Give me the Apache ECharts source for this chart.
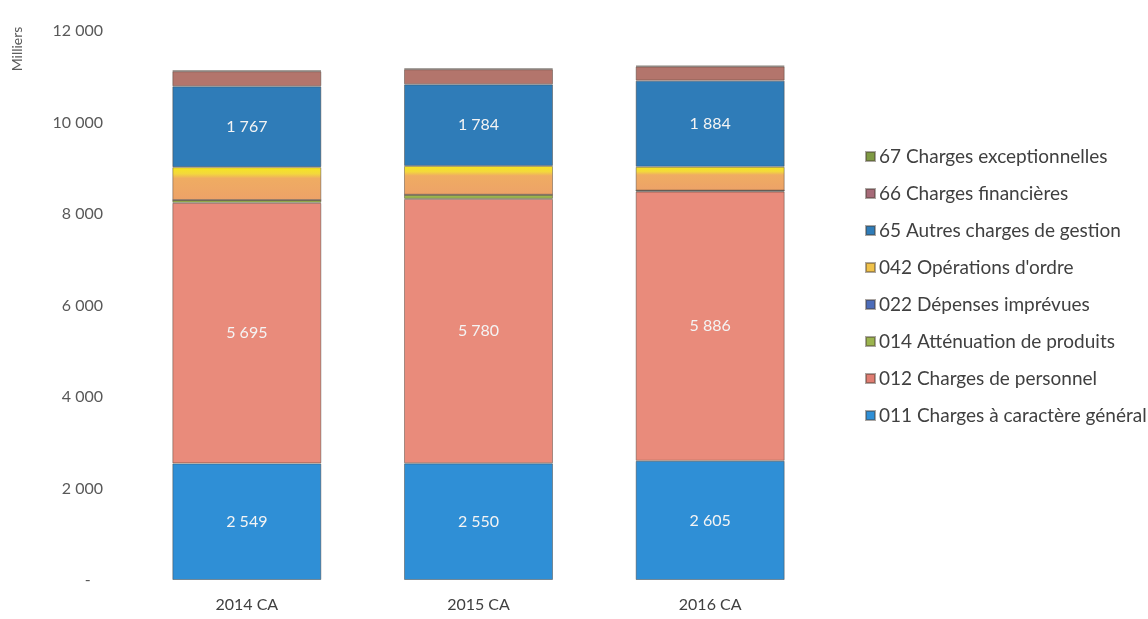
<!DOCTYPE html>
<html>
<head>
<meta charset="utf-8">
<title>Charges de fonctionnement</title>
<script src="https://cdn.jsdelivr.net/npm/echarts@6/dist/echarts.min.js"></script>
<style>
  html, body { margin: 0; padding: 0; background: #ffffff; }
  #chart { width: 1148px; height: 619px; }
</style>
</head>
<body>
<div id="chart"></div>
<script>
// Exercices (comptes administratifs)
const categories = ['2014 CA', '2015 CA', '2016 CA'];

// Montants par chapitre, en milliers d'euros
const ch011 = [2549, 2550, 2605];
const ch012 = [5695, 5780, 5886];
const ch014 = [60, 90, 20];
const ch022 = [0, 0, 0];
const ch042 = [720, 630, 520];
const ch65 = [1767, 1784, 1884];
const ch66 = [330, 330, 310];
const ch67 = [15, 15, 15];

const seriesNames = [
  '011 Charges à caractère général',
  '012 Charges de personnel',
  '014 Atténuation de produits',
  '022 Dépenses imprévues',
  '042 Opérations d\'ordre',
  '65 Autres charges de gestion',
  '66 Charges financières',
  '67 Charges exceptionnelles'
];

const yTicks = { min: 0, max: 12000, interval: 2000 };

function fmtThousands(v) {
  return String(Math.round(v)).replace(/\B(?=(\d{3})+(?!\d))/g, ' ');
}

const FONT = 'Lato, "Open Sans", sans-serif';

// Yellow rim fading into orange for the "042" blocks
function orderGradient() {
  return new echarts.graphic.LinearGradient(0, 0, 0, 1, [
    { offset: 0, color: '#f6e61e' },
    { offset: 0.2, color: '#f3d83c' },
    { offset: 0.34, color: '#efac62' },
    { offset: 1, color: '#eda268' }
  ]);
}

const fills = ['#2f8fd6', '#e98b7b', '#9bb44e', '#4c6cb9', null, '#2f7cb8', '#b3756c', '#8b9a4c'];
const legendColors = ['#2f8fd6', '#e07d72', '#9bb44e', '#4c6cb9', '#f0c24a', '#2f7cb8', '#a66a78', '#7f9a44'];
const labelled = [true, true, false, false, false, true, false, false];

const values = [ch011, ch012, ch014, ch022, ch042, ch65, ch66, ch67];

const dataLabel = {
  show: true,
  position: 'inside',
  color: '#f4f4f4',
  fontFamily: FONT,
  fontSize: 16,
  formatter: p => fmtThousands(p.value)
};

const series = values.map((vals, i) => ({
  name: seriesNames[i],
  type: 'bar',
  stack: 'total',
  barWidth: 149,
  data: vals,
  itemStyle: {
    color: fills[i] ? fills[i] : () => orderGradient(),
    borderColor: 'rgba(70,60,50,0.45)',
    borderWidth: 1
  },
  label: labelled[i] ? dataLabel : { show: false },
  emphasis: { disabled: true }
}));

const chart = echarts.init(document.getElementById('chart'), null, { renderer: 'canvas' });

chart.setOption({
  animation: false,
  backgroundColor: '#ffffff',
  grid: { left: 131, right: 322, top: 31, bottom: 39, containLabel: false },
  legend: {
    orient: 'vertical',
    left: 860,
    top: 142,
    itemGap: 18,
    itemWidth: 9,
    itemHeight: 9,
    icon: 'rect',
    data: seriesNames.slice().reverse().map(n => ({
      name: n,
      itemStyle: { color: legendColors[seriesNames.indexOf(n)] }
    })),
    textStyle: { fontFamily: FONT, fontSize: 19, color: '#404040', padding: [0, 0, 0, -1] }
  },
  xAxis: {
    type: 'category',
    data: categories,
    axisLine: { show: false },
    axisTick: { show: false },
    axisLabel: { fontFamily: FONT, fontSize: 16, color: '#404040', margin: 17 }
  },
  yAxis: {
    type: 'value',
    min: yTicks.min,
    max: yTicks.max,
    interval: yTicks.interval,
    splitLine: { show: false },
    axisLine: { show: false },
    axisTick: { show: false },
    axisLabel: {
      fontFamily: FONT,
      fontSize: 16,
      color: '#595959',
      margin: 28,
      formatter: v => (v === 0 ? '-   ' : fmtThousands(v))
    }
  },
  graphic: [{
    type: 'text',
    x: 17,
    y: 49,
    rotation: Math.PI / 2,
    style: {
      text: 'Milliers',
      fontFamily: FONT,
      fontSize: 14,
      fill: '#595959',
      align: 'center',
      verticalAlign: 'middle'
    }
  }],
  series: series
});
</script>
</body>
</html>
